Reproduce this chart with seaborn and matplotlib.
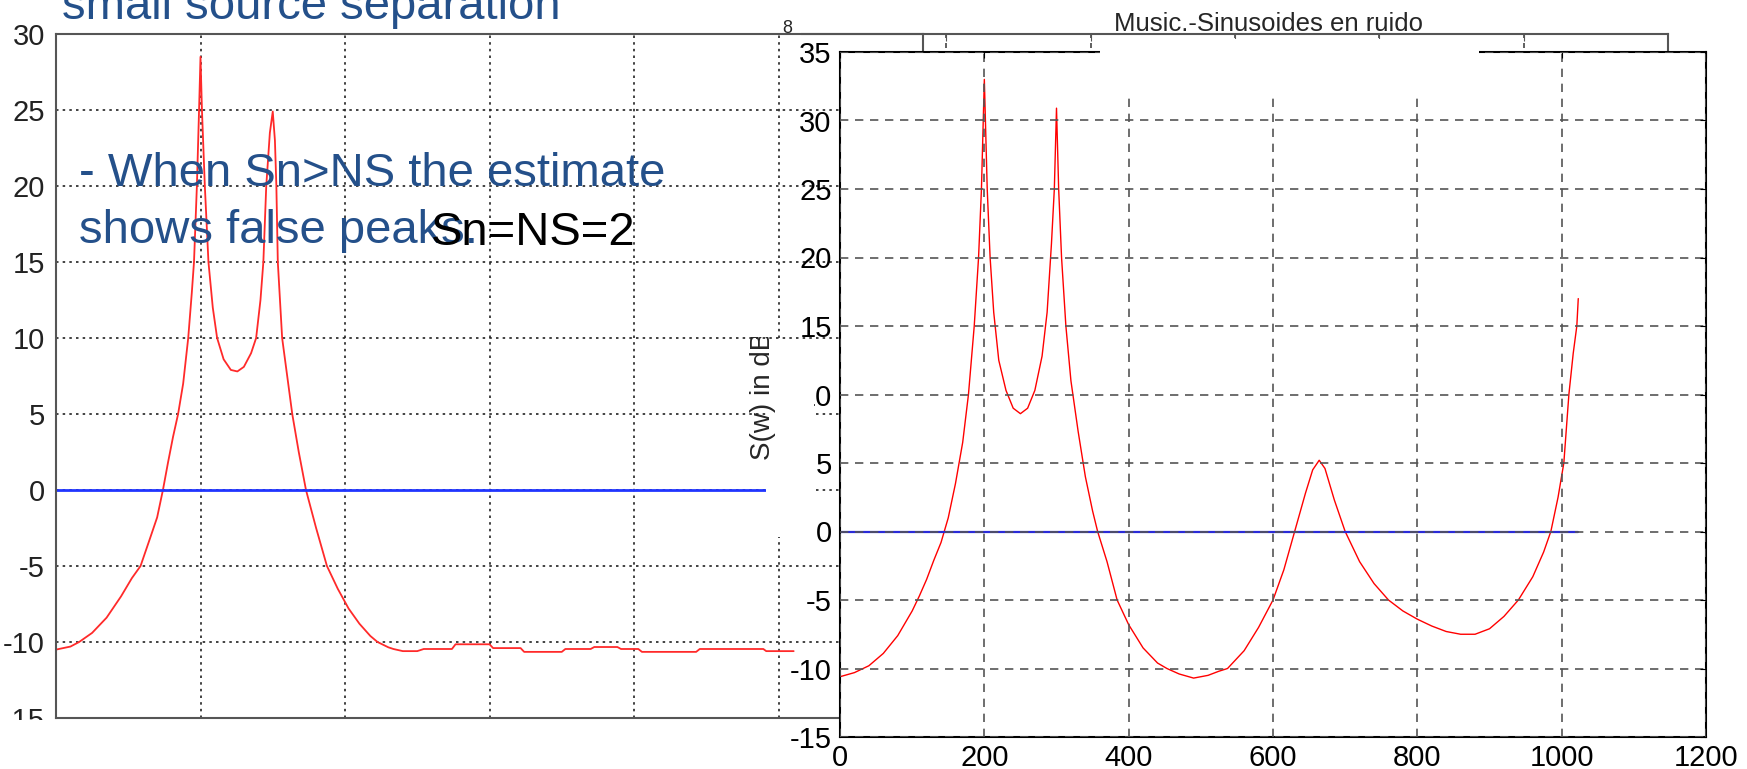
import pandas as pd
import seaborn as sns
import matplotlib.pyplot as plt
from matplotlib.patches import Rectangle
from matplotlib.transforms import Bbox, TransformedBbox
from matplotlib import font_manager

# MUSIC 谱估计, 左: Sn = NS = 2, 右: "Music.-Sinusoides en ruido"
left_x = [0, 20, 32, 50, 70, 90, 105, 117, 130, 140, 148, 155, 162, 169, 176, 183, 188, 191, 195, 198,
          200, 202, 206, 211, 217, 223, 232, 242, 251, 260, 270, 277, 283, 287, 291, 296, 300, 303, 305,
          307, 310, 313, 320, 327, 336, 346, 360, 375, 390, 405, 420, 435, 445, 460, 467, 480, 500, 509,
          548, 553, 600, 605, 643, 648, 700, 705, 740, 745, 777, 782, 806, 811, 886, 891, 979, 983, 1021]
left_db = [-10.5, -10.3, -10.0, -9.4, -8.4, -7.0, -5.8, -5.0, -3.2, -1.8, 0.0, 1.8, 3.5, 5.0, 7.0, 10.0,
           13.0, 15.0, 20.0, 25.0, 28.5, 25.0, 20.0, 15.0, 12.0, 10.0, 8.6, 7.9, 7.8, 8.1, 9.0, 10.0, 12.5,
           15.0, 20.0, 23.5, 24.9, 23.0, 20.0, 15.0, 12.5, 10.0, 7.5, 5.0, 2.5, 0.0, -2.5, -5.0, -6.5, -7.8,
           -8.8, -9.6, -10.0, -10.35, -10.46, -10.6, -10.6, -10.46, -10.46, -10.15, -10.15, -10.4, -10.4,
           -10.65, -10.65, -10.46, -10.46, -10.33, -10.33, -10.46, -10.46, -10.65, -10.65, -10.46, -10.46,
           -10.6, -10.6]
left_noise_x = [0, 986]
left_noise_db = [0, 0]

right_x = [0, 20, 40, 60, 80, 100, 110, 120, 130, 140, 150, 160, 170, 178, 186, 192, 196, 200, 204, 208,
           213, 220, 230, 240, 250, 260, 270, 280, 287, 293, 297, 300, 303, 307, 313, 320, 330, 340, 350,
           357, 370, 384, 400, 420, 440, 453, 470, 490, 510, 525, 537, 560, 580, 600, 615, 630, 645, 655,
           664, 672, 685, 700, 720, 740, 760, 780, 800, 820, 840, 860, 880, 900, 920, 940, 960, 975, 985,
           995, 1003, 1010, 1016, 1021, 1023]
right_db = [-10.6, -10.3, -9.8, -8.9, -7.6, -5.8, -4.7, -3.5, -2.1, -0.8, 1.0, 3.5, 6.5, 10.0, 15.0, 20.0,
            25.0, 33.0, 25.0, 20.0, 16.0, 12.5, 10.3, 9.0, 8.6, 9.0, 10.3, 12.8, 16.0, 21.0, 25.0, 30.9,
            25.0, 20.0, 15.0, 11.0, 7.3, 4.0, 1.5, 0.0, -2.2, -5.0, -6.8, -8.5, -9.6, -10.0, -10.4, -10.7,
            -10.5, -10.2, -10.0, -8.7, -7.0, -5.0, -2.8, 0.0, 2.8, 4.5, 5.2, 4.6, 2.3, 0.0, -2.2, -3.8,
            -5.0, -5.8, -6.4, -6.9, -7.3, -7.5, -7.5, -7.1, -6.2, -5.0, -3.3, -1.5, 0.0, 2.5, 5.0, 10.0,
            13.0, 15.0, 17.0]
right_noise_x = [0, 1023]
right_noise_db = [0, 0]

x_ticks = list(range(0, 1201, 200))
left_y_ticks = list(range(-15, 31, 5))
right_y_ticks = list(range(-15, 36, 5))

slide_lines = ['small source separation', '- When Sn>NS the estimate', 'shows false peaks.']
slide_note = 'Sn=NS=2'
right_title = 'Music.-Sinusoides en ruido'
right_ylabel = 'S(w) in dB'

left_df = pd.DataFrame({'x': left_x, 'db': left_db})
right_df = pd.DataFrame({'x': right_x, 'db': right_db})

W, H = 1747, 769


def box(x0, y0, x1, y1):
    # 像素框(左上原点) -> figure 坐标
    return [x0 / W, 1 - y1 / H, (x1 - x0) / W, (y1 - y0) / H]


def pick_font(names):
    for n in names:
        try:
            font_manager.findfont(n, fallback_to_default=False)
            return n
        except ValueError:
            pass
    return 'DejaVu Sans'


sns.set_style('white')
base_font = pick_font(['Liberation Sans', 'Arial'])
plt.rcParams['font.family'] = [base_font, 'DejaVu Sans']
plt.rcParams['axes.unicode_minus'] = False

fig = plt.figure(figsize=(W / 100, H / 100), dpi=100)

# 左图
ax1 = fig.add_axes(box(56, 34, 923, 718), zorder=0)
sns.lineplot(data=left_df, x='x', y='db', ax=ax1, color='#ff2a2a', linewidth=1.3,
             estimator=None, sort=False)
sns.lineplot(x=left_noise_x, y=left_noise_db, ax=ax1, color='#2035ff', linewidth=2.0, estimator=None)
ax1.set_xlim(0, 1200)
ax1.set_ylim(-15, 30)
ax1.set_xticks(x_ticks)
ax1.set_xticklabels([])
ax1.set_yticks(left_y_ticks)
ax1.set_xlabel('')
ax1.set_ylabel('')
ax1.grid(True, color='#222222', linestyle=(0, (1.5, 2.5)), linewidth=1.2)
ax1.tick_params(direction='in', length=4, labelsize=21, pad=8, colors='#222222')
for s in ax1.spines.values():
    s.set_color('#555555')
    s.set_linewidth(1.5)

# 背后的第三个图框, 只露出上边
ax0 = fig.add_axes(box(802, 34, 1668, 718), zorder=0.5)
ax0.patch.set_visible(False)
ax0.set_xlim(0, 1200)
ax0.set_ylim(0, 1)
ax0.set_xticks(x_ticks[1:-1])
ax0.set_yticks([])
ax0.tick_params(axis='x', bottom=False, top=True, labelbottom=False, direction='in', length=5,
                color='#555555')
ax0.grid(True, axis='x', color='#444444', linestyle=(0, (3, 3)), linewidth=1.2)
ax0.spines['left'].set_visible(False)
ax0.spines['bottom'].set_visible(False)
for k in ['top', 'right']:
    ax0.spines[k].set_color('#555555')
    ax0.spines[k].set_linewidth(1.5)

# 右图
ax2 = fig.add_axes(box(840, 52, 1706, 737), zorder=1)
ax2.set_facecolor('white')
sns.lineplot(data=right_df, x='x', y='db', ax=ax2, color='#ff0000', linewidth=1.0,
             estimator=None, sort=False)
sns.lineplot(x=right_noise_x, y=right_noise_db, ax=ax2, color='#2a2ad8', linewidth=1.6, estimator=None)
ax2.set_xlim(0, 1200)
ax2.set_ylim(-15, 35)
ax2.set_xticks(x_ticks)
ax2.set_yticks(right_y_ticks)
ax2.set_xlabel('')
ax2.set_ylabel('')
ax2.set_axisbelow(False)
ax2.grid(True, color='#555555', linestyle=(0, (5, 4)), linewidth=1.2)
ax2.tick_params(direction='in', length=4, labelsize=21, top=True, right=True, colors='black')
ax2.tick_params(axis='y', pad=6)
ax2.tick_params(axis='x', pad=5)
for s in ax2.spines.values():
    s.set_color('black')
    s.set_linewidth(1.5)


def cover(x0, y0, x1, y1, z):
    l, b, w, h = box(x0, y0, x1, y1)
    fig.add_artist(Rectangle((l, b), w, h, transform=fig.transFigure, facecolor='white',
                             edgecolor='none', zorder=z))


cover(0, 720, 790, 769, 0.7)      # 幻灯片裁掉的底边
cover(766, 340, 814, 537, 1.5)    # ylabel 所在的白块
cover(1100, 39, 1479, 98, 1.5)    # 标题白块

fig.text(1268 / W, 1 - 31 / H, right_title, ha='center', va='baseline', fontsize=18.5, zorder=2)
yl = fig.text(763 / W, 1 - 396 / H, right_ylabel, rotation=90, ha='center', va='center',
              fontsize=20, zorder=2)
yl.set_clip_box(TransformedBbox(Bbox.from_extents(0, 0, 1, 1 - 337 / H), fig.transFigure))
fig.text(787 / W, 1 - 33 / H, '8', ha='center', va='baseline', fontsize=13, zorder=2)

# 幻灯片文字
blue = '#24508a'
fig.text(62 / W, 1 - 19 / H, slide_lines[0], color=blue, fontsize=34, va='baseline', zorder=3)
fig.text(79 / W, 1 - 186 / H, slide_lines[1], color=blue, fontsize=34, va='baseline', zorder=3)
fig.text(79 / W, 1 - 243 / H, slide_lines[2], color=blue, fontsize=34, va='baseline', zorder=3)
fig.text(431 / W, 1 - 245 / H, slide_note, color='black', fontsize=34, va='baseline', zorder=3)

fig.savefig('out.png', dpi=100)
